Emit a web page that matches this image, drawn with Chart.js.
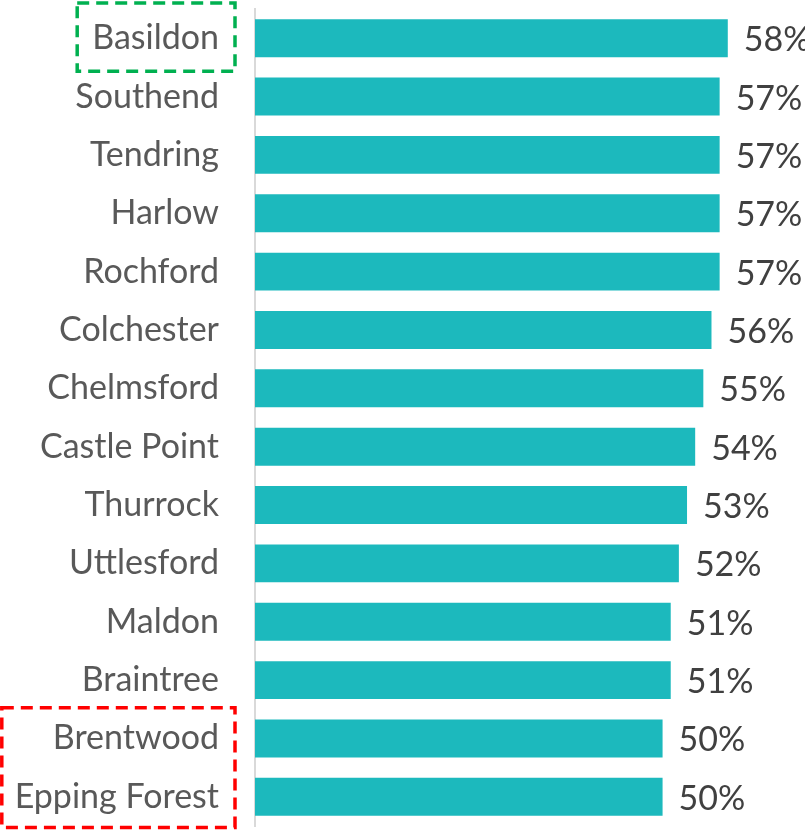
<!DOCTYPE html>
<html>
<head>
<meta charset="utf-8">
<script src="https://cdn.jsdelivr.net/npm/chart.js@4/dist/chart.umd.min.js"></script>
<style>
  html, body { margin: 0; padding: 0; background: #fff; }
  #wrap { width: 805px; height: 831px; }
</style>
</head>
<body>
<div id="wrap"><canvas id="barChart" width="805" height="831"></canvas></div>
<script>
// data
const districts = ["Basildon", "Southend", "Tendring", "Harlow", "Rochford", "Colchester", "Chelmsford",
  "Castle Point", "Thurrock", "Uttlesford", "Maldon", "Braintree", "Brentwood", "Epping Forest"];
const shares = [58, 57, 57, 57, 57, 56, 55, 54, 53, 52, 51, 51, 50, 50];
const bestGroup = ["Basildon"];
const worstGroup = ["Brentwood", "Epping Forest"];

const FONT = "Lato";
const FONT_SIZE = 34;

// value labels at the end of each bar
const valueLabels = {
  id: 'valueLabels',
  afterDatasetsDraw(chart) {
    const ctx = chart.ctx;
    const meta = chart.getDatasetMeta(0);
    ctx.save();
    ctx.font = FONT_SIZE + "px " + FONT;
    ctx.fillStyle = "#404040";
    ctx.textAlign = "left";
    ctx.textBaseline = "middle";
    meta.data.forEach((bar, i) => {
      ctx.fillText(shares[i] + "%", bar.x + 16, bar.y + 2);
    });
    ctx.restore();
  }
};

// dashed boxes around highlighted districts
const highlightBoxes = {
  id: 'highlightBoxes',
  afterDraw(chart) {
    const ctx = chart.ctx;
    const y = chart.scales.y;
    const step = y.getPixelForValue(1) - y.getPixelForValue(0);
    ctx.save();
    ctx.font = FONT_SIZE + "px " + FONT;
    ctx.lineWidth = 3.5;
    ctx.setLineDash([12, 7]);

    function box(names, color, padTop, padBottom) {
      const idx = names.map(n => districts.indexOf(n));
      const w = Math.max(...names.map(n => ctx.measureText(n).width));
      const right = chart.chartArea.left - 20;
      const left = Math.max(1.8, right - 17 - w - 14);
      const top = y.getPixelForValue(Math.min(...idx)) - step / 2 + padTop;
      const bottom = y.getPixelForValue(Math.max(...idx)) + step / 2 + padBottom;
      ctx.strokeStyle = color;
      ctx.strokeRect(left, top, right - left, bottom - top);
    }
    box(bestGroup, "#00B050", -6, 4);
    box(worstGroup, "#FF0000", -1.5, 1.5);
    ctx.restore();
  }
};

new Chart(document.getElementById('barChart'), {
  type: 'bar',
  data: {
    labels: districts,
    datasets: [{
      data: shares,
      backgroundColor: '#1CB9BD',
      borderWidth: 0,
      barPercentage: 1,
      categoryPercentage: 0.65
    }]
  },
  options: {
    indexAxis: 'y',
    responsive: false,
    animation: false,
    layout: { padding: { top: 9, bottom: 5, left: 0, right: 12 } },
    plugins: { legend: { display: false }, tooltip: { enabled: false } },
    scales: {
      x: { display: false, min: 0, max: 66 },
      y: {
        afterFit: scale => {
          scale.width = 255;
          scale.paddingTop = 0;
          scale.paddingBottom = 0;
        },
        grid: { display: false, drawTicks: false },
        border: { display: true, color: '#D9D9D9', width: 2 },
        ticks: {
          padding: 36,
          color: '#595959',
          font: { family: FONT, size: FONT_SIZE }
        }
      }
    }
  },
  plugins: [valueLabels, highlightBoxes]
});
</script>
</body>
</html>
